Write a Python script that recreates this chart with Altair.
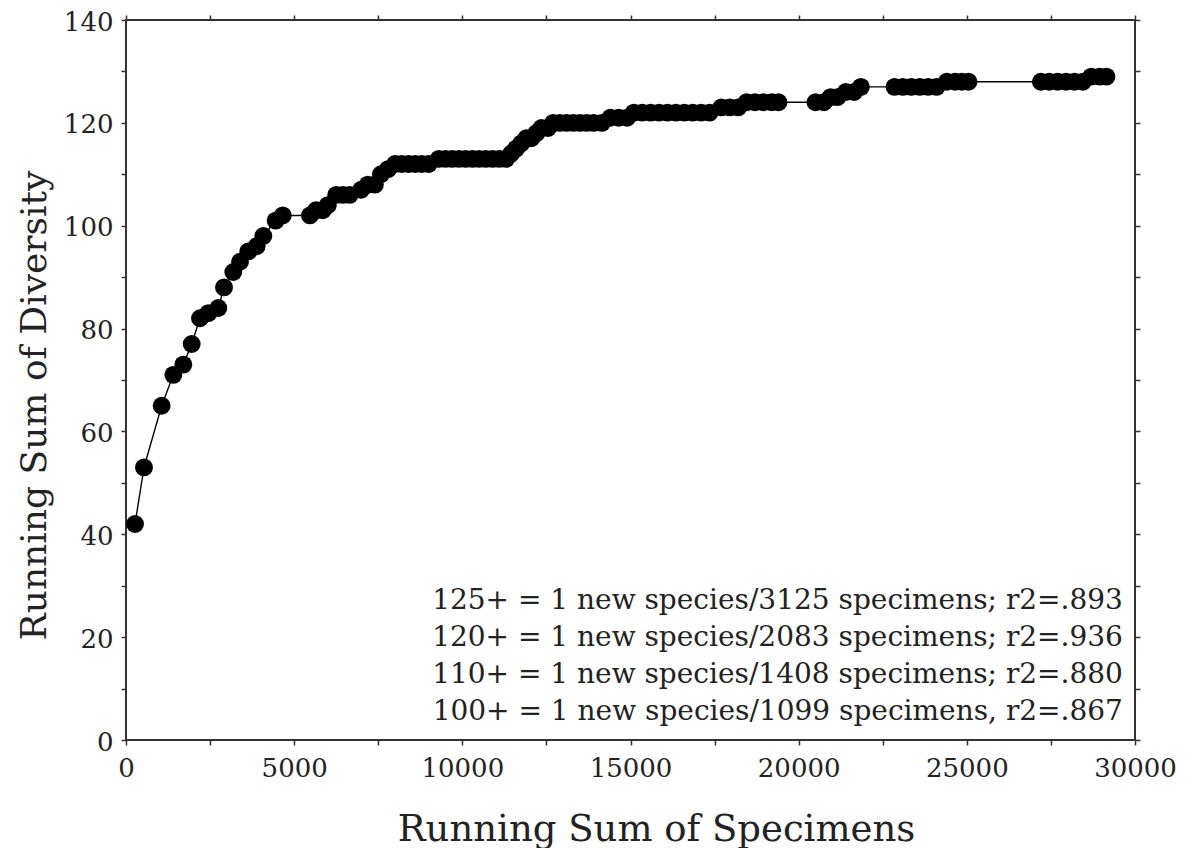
import altair as alt
import pandas as pd

# Running sum of specimens (x) and running sum of diversity (y)
specimens = [
    268, 535, 1060, 1407, 1704, 1953, 2200, 2447, 2745, 2914, 3190, 3390, 3637, 3885, 4083, 4450, 4660,
    5470, 5650, 5850, 6000, 6250, 6450, 6650, 6990, 7190, 7400, 7580, 7790,
    8000, 8200, 8400, 8600, 8800, 9000,
    9300, 9500, 9700, 9900, 10100, 10300, 10500, 10700, 10900, 11100,
    11300, 11450, 11600, 11750, 11900, 12050, 12200, 12350, 12550,
    12700, 12900, 13100, 13300, 13500, 13700, 13900, 14150,
    14400, 14650, 14900,
    15100, 15350, 15600, 15850, 16100, 16350, 16600, 16850, 17100, 17350,
    17700, 17950, 18200,
    18450, 18700, 18950, 19200, 19400,
    20500, 20750, 20950, 21150, 21400, 21650, 21850,
    22850, 23100, 23350, 23600, 23850, 24100, 24400, 24650, 24850, 25050,
    27200, 27450, 27700, 27950, 28200, 28450, 28700, 28950, 29150,
]
diversity = [
    42, 53, 65, 71, 73, 77, 82, 83, 84, 88, 91, 93, 95, 96, 98, 101, 102,
    102, 103, 103, 104, 106, 106, 106, 107, 108, 108, 110, 111,
    112, 112, 112, 112, 112, 112,
    113, 113, 113, 113, 113, 113, 113, 113, 113, 113,
    113, 114, 115, 116, 117, 117, 118, 119, 119,
    120, 120, 120, 120, 120, 120, 120, 120,
    121, 121, 121,
    122, 122, 122, 122, 122, 122, 122, 122, 122, 122,
    123, 123, 123,
    124, 124, 124, 124, 124,
    124, 124, 125, 125, 126, 126, 127,
    127, 127, 127, 127, 127, 127, 128, 128, 128, 128,
    128, 128, 128, 128, 128, 128, 129, 129, 129,
]

notes = [
    "125+ = 1 new species/3125 specimens; r2=.893",
    "120+ = 1 new species/2083 specimens; r2=.936",
    "110+ = 1 new species/1408 specimens; r2=.880",
    "100+ = 1 new species/1099 specimens, r2=.867",
]
note_x = [29640, 29640, 29640, 29640]
note_y = [25.5, 18.3, 11.1, 3.9]

x_ticks = list(range(0, 30001, 2500))
y_ticks = list(range(0, 141, 10))

df = pd.DataFrame({"specimens": specimens, "diversity": diversity})
nd = pd.DataFrame({"note": notes, "nx": note_x, "ny": note_y})

FONT = "DejaVu Serif"
INK = "#222222"
FRAME = "#333333"

xscale = alt.Scale(domain=[0, 30000], nice=False, zero=True)
yscale = alt.Scale(domain=[0, 140], nice=False, zero=True)

x_axis = alt.Axis(
    orient="bottom", values=x_ticks, format="d",
    labelExpr="datum.value % 5000 == 0 ? datum.label : ''",
    title="Running Sum of Specimens", titleFont=FONT, titleFontSize=37,
    titleFontWeight="normal", titleColor=INK,
    titleX=530, titleY=100, titleBaseline="alphabetic", titleAnchor="middle", titleAlign="center",
    labelFont=FONT, labelFontSize=26, labelColor=INK, labelPadding=10,
    labelOverlap=False, labelFlush=False,
    tickSize=5, tickColor=FRAME, tickWidth=1.5, domain=False, grid=False,
)
y_axis = alt.Axis(
    orient="left", values=y_ticks,
    labelExpr="datum.value % 20 == 0 ? datum.label : ''",
    title="Running Sum of Diversity", titleFont=FONT, titleFontSize=36,
    titleFontWeight="normal", titleColor=INK,
    titleX=-92, titleY=385, titleBaseline="middle", titleAngle=-90, titleAlign="center",
    labelFont=FONT, labelFontSize=26, labelColor=INK, labelPadding=8, labelOffset=2,
    labelOverlap=False, labelFlush=False,
    tickSize=5, tickColor=FRAME, tickWidth=1.5, domain=False, grid=False,
)

line = alt.Chart(df).mark_line(color="black", strokeWidth=1.4).encode(
    x=alt.X("specimens:Q", scale=xscale, axis=x_axis),
    y=alt.Y("diversity:Q", scale=yscale, axis=y_axis),
    order="specimens:Q",
)

points = alt.Chart(df).mark_circle(size=320, color="black", opacity=1).encode(
    x=alt.X("specimens:Q", scale=xscale, axis=None),
    y=alt.Y("diversity:Q", scale=yscale, axis=None),
)

text = alt.Chart(nd).mark_text(
    align="right", baseline="alphabetic", font=FONT, fontSize=28, color=INK
).encode(
    x=alt.X("nx:Q", scale=xscale, axis=None),
    y=alt.Y("ny:Q", scale=yscale, axis=None),
    text="note:N",
)

frame_ticks = alt.Chart(df).mark_point(opacity=0).encode(
    x=alt.X("specimens:Q", scale=xscale,
            axis=alt.Axis(orient="top", values=x_ticks, labels=False, title=None,
                          tickSize=5, tickColor=FRAME, tickWidth=1.5, domain=False, grid=False)),
    y=alt.Y("diversity:Q", scale=yscale,
            axis=alt.Axis(orient="right", values=y_ticks, labels=False, title=None,
                          tickSize=5, tickColor=FRAME, tickWidth=1.5, domain=False, grid=False)),
)

chart = alt.layer(line, points, text, frame_ticks).resolve_axis(
    x="independent", y="independent"
).properties(
    width=1009, height=720,
    padding={"left": 118, "top": 12, "right": 55, "bottom": 108},
    autosize=alt.AutoSizeParams(type="none"),
    background="white",
).configure_view(stroke=FRAME, strokeWidth=2)

chart.save("out.html", embed_options={"renderer": "svg", "actions": False})
